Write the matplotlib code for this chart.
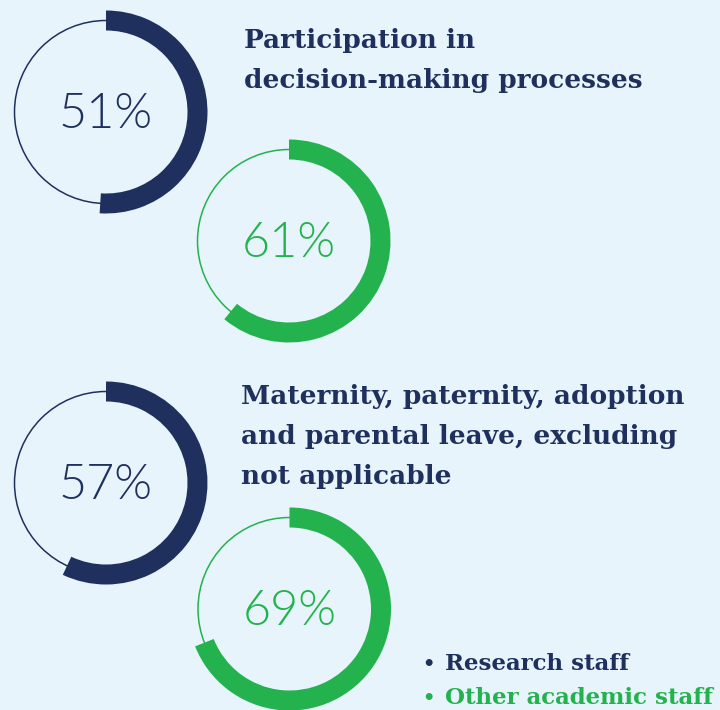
import matplotlib.pyplot as plt
from matplotlib import font_manager
from matplotlib.patches import Wedge, Circle

# share of respondents per topic and staff group
topics = ["Participation in\ndecision-making processes",
          "Maternity, paternity, adoption\nand parental leave, excluding\nnot applicable"]
research_staff = [51, 57]
other_academic = [61, 69]
groups = ["Research staff", "Other academic staff"]

navy = "#20305e"
green = "#23b24d"
bg = "#e7f4fc"

# pick Lato Light by file name, falling back to regular Lato
light = [f.fname for f in font_manager.fontManager.ttflist
         if f.fname.endswith("Lato-Light.ttf")]
if light:
    pct_font = font_manager.FontProperties(fname=light[0], size=35)
else:
    pct_font = font_manager.FontProperties(family="Lato", size=34)

W, H = 720, 710
fig = plt.figure(figsize=(W / 100, H / 100), dpi=100, facecolor=bg)
ax = fig.add_axes([0, 0, 1, 1])
ax.set_xlim(0, W)
ax.set_ylim(H, 0)
ax.set_aspect("equal")
ax.axis("off")

R = 91.5      # centre line of the ring
band = 20     # thickness of the value arc


def ring(cx, cy, value, color):
    ax.add_patch(Circle((cx, cy), R, fill=False, ec=color, lw=1.1))
    # y axis is flipped, so counter-clockwise in data runs clockwise on screen
    ax.add_patch(Wedge((cx, cy), R + band / 2, 270, 270 + 3.6 * value,
                       width=band, fc=color, ec="none"))
    ax.text(cx, cy + 16, f"{value}%", color=color, fontproperties=pct_font,
            ha="center", va="baseline")


centres_a = [(106, 112), (106, 483)]
centres_b = [(289, 241), (289.5, 609)]
for (c1, c2, v1, v2) in zip(centres_a, centres_b, research_staff, other_academic):
    ring(*c1, v1, navy)
    ring(*c2, v2, green)

# topic headings
heading_pos = [(244, 48), (241, 404)]
for (x, y), title in zip(heading_pos, topics):
    for i, line in enumerate(title.split("\n")):
        ax.text(x, y + i * 40, line, color=navy, fontsize=19,
                family="DejaVu Serif", weight="bold", va="baseline")

# legend
for i, (name, col) in enumerate(zip(groups, [navy, green])):
    y = 670 + i * 34
    ax.text(428, y - 6, "•", color=col, fontsize=14, ha="center", va="center",
            family="DejaVu Sans", weight="bold")
    ax.text(445, y, name, color=col, fontsize=16.5, family="DejaVu Serif",
            weight="bold", va="baseline")

fig.savefig("out.png", dpi=100, facecolor=bg)
